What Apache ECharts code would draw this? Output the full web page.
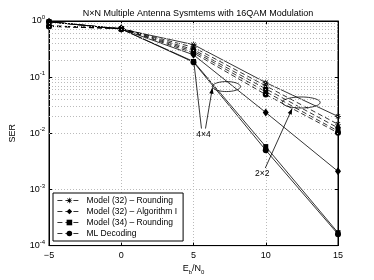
<!DOCTYPE html>
<html>
<head>
<meta charset="utf-8">
<script src="https://cdn.jsdelivr.net/npm/echarts@6/dist/echarts.min.js"></script>
<style>
  html, body { margin: 0; padding: 0; background: #fff; }
  #chart { width: 374px; height: 280px; }
</style>
</head>
<body>
<div id="chart"></div>
<script>
// Eb/N0 points
const snr = [-5, 0, 5, 10, 15];

const modelNames = [
  'Model (32) \u2013 Rounding',
  'Model (32) \u2013 Algorithm I',
  'Model (34) \u2013 Rounding',
  'ML Decoding'
];

// 2x2 curves (dashed)
const ser2x2_m32round = [0.82, 0.74, 0.34, 0.070, 0.0145];
const ser2x2_m32alg = [0.82, 0.74, 0.31, 0.062, 0.0125];
const ser2x2_m34round = [0.81, 0.73, 0.29, 0.055, 0.0110];
const ser2x2_ml = [0.80, 0.73, 0.27, 0.049, 0.0102];

// 4x4 curves (solid)
const ser4x4_m32round = [0.97, 0.72, 0.38, 0.080, 0.020];
const ser4x4_m32alg = [0.97, 0.72, 0.25, 0.0235, 0.0021];
const ser4x4_m34round = [0.97, 0.72, 0.19, 0.0058, 0.00017];
const ser4x4_ml = [0.97, 0.72, 0.185, 0.0050, 0.00016];

const xTicks = [-5, 0, 5, 10, 15];

const asterisk = 'path://M-1,-0.12L1,-0.12L1,0.12L-1,0.12Z' +
  'M-0.12,-1L0.12,-1L0.12,1L-0.12,1Z' +
  'M0.622,0.792L-0.792,-0.622L-0.622,-0.792L0.792,0.622Z' +
  'M0.792,-0.622L-0.622,0.792L-0.792,0.622L0.622,-0.792Z';
const symbols = [asterisk, 'diamond', 'rect', 'circle'];
const symSizes = [6, [6, 8], 5, 6];

const chart = echarts.init(document.getElementById('chart'));
const font = 'Liberation Sans, Arial, sans-serif';

function makeSeries(vals, i, dashed) {
  return {
    name: modelNames[i],
    type: 'line',
    data: snr.map((x, k) => [x, vals[k]]),
    symbol: symbols[i],
    symbolSize: symSizes[i],
    showSymbol: true,
    color: '#000',
    itemStyle: { color: '#000' },
    lineStyle: { color: '#000', width: 0.8, type: dashed ? [5, 3] : 'solid' },
    animation: false,
    z: 3
  };
}

const series = [
  makeSeries(ser2x2_m32round, 0, true),
  makeSeries(ser2x2_m32alg, 1, true),
  makeSeries(ser2x2_m34round, 2, true),
  makeSeries(ser2x2_ml, 3, true),
  makeSeries(ser4x4_m32round, 0, false),
  makeSeries(ser4x4_m32alg, 1, false),
  makeSeries(ser4x4_m34round, 2, false),
  makeSeries(ser4x4_ml, 3, false)
];

// minor log grid lines
const minorVals = [];
for (let e = -4; e < 0; e++) {
  for (let m = 2; m <= 9; m++) minorVals.push(m * Math.pow(10, e));
}
series.push({
  type: 'line',
  data: [],
  silent: true,
  markLine: {
    silent: true,
    symbol: 'none',
    label: { show: false },
    lineStyle: { color: '#bbb', type: [1, 2], width: 1 },
    data: minorVals.map(v => ({ yAxis: v }))
  }
});

const supRich = {
  b: { fontSize: 9, fontFamily: font, color: '#000' },
  s: { fontSize: 6, fontFamily: font, color: '#000', padding: [0, 0, 7, 0] }
};

chart.setOption({
  animation: false,
  title: {
    text: 'N\u00d7N Multiple Antenna Sysmtems with 16QAM Modulation',
    left: 193, textAlign: 'center', top: 4,
    textStyle: { fontSize: 9, fontWeight: 'normal', fontFamily: font, color: '#000' }
  },
  legend: {
    data: modelNames,
    orient: 'vertical',
    left: 53, top: 193,
    itemWidth: 24, itemHeight: 7, itemGap: 2,
    padding: [3, 6, 3, 4],
    backgroundColor: '#fff',
    borderColor: '#000', borderWidth: 1, borderRadius: 0,
    lineStyle: { width: 0.8, type: [5, 3] },
    textStyle: { fontSize: 8.5, fontFamily: font, color: '#000' },
    z: 10
  },
  grid: {
    left: 48, right: 36, top: 21, bottom: 33,
    show: true, borderColor: '#000', borderWidth: 1
  },
  xAxis: [{
    type: 'value', min: -5, max: 15, interval: 5,
    name: 'E{s|b}/N{s|0}', nameLocation: 'middle', nameGap: 14,
    nameTextStyle: {
      fontSize: 9, fontFamily: font, color: '#000',
      rich: {
        s: { fontSize: 6, fontFamily: font, color: '#000', padding: [6, 0, 0, 0] }
      }
    },
    axisLine: { onZero: false, lineStyle: { color: '#000' } },
    axisTick: { inside: true, length: 3, lineStyle: { color: '#000' } },
    axisLabel: {
      fontSize: 9, fontFamily: font, color: '#000', margin: 5,
      formatter: v => xTicks.includes(v) ? String(v).replace('-', '\u2212') : ''
    },
    splitLine: { lineStyle: { color: '#bbb', type: [1, 2] } }
  }, {
    type: 'value', min: -5, max: 15, interval: 5, position: 'top',
    axisLine: { onZero: false, lineStyle: { color: '#000' } },
    axisTick: { inside: true, length: 3, lineStyle: { color: '#000' } },
    axisLabel: { show: false }, splitLine: { show: false }
  }],
  yAxis: [{
    type: 'log', logBase: 10, min: 1e-4, max: 1,
    name: 'SER', nameLocation: 'middle', nameGap: 32,
    nameTextStyle: { fontSize: 9, fontFamily: font, color: '#000' },
    axisLine: { onZero: false, lineStyle: { color: '#000' } },
    axisTick: { inside: true, length: 3, lineStyle: { color: '#000' } },
    axisLabel: {
      margin: 4,
      formatter: v => '{b|10}{s|' + Math.round(Math.log10(v)) + '}',
      rich: supRich
    },
    splitLine: { lineStyle: { color: '#bbb', type: [1, 2] } }
  }, {
    type: 'log', logBase: 10, min: 1e-4, max: 1, position: 'right',
    axisLine: { onZero: false, lineStyle: { color: '#000' } },
    axisTick: { inside: true, length: 3, lineStyle: { color: '#000' } },
    axisLabel: { show: false }, splitLine: { show: false }
  }],
  series: series
});

// annotations: labels, ellipses and arrows placed in data coordinates
const px = (x, y) => chart.convertToPixel({ xAxisIndex: 0, yAxisIndex: 0 }, [x, y]);

function ellipse(c, rx, ry) {
  const pts = [];
  for (let k = 0; k < 48; k++) {
    const t = k / 48 * Math.PI * 2;
    pts.push([c[0] + rx * Math.cos(t), c[1] + ry * Math.sin(t)]);
  }
  return {
    type: 'polygon', shape: { points: pts }, z: 20,
    style: { fill: null, stroke: '#000', lineWidth: 0.8 }
  };
}

function arrow(from, to) {
  const dx = to[0] - from[0], dy = to[1] - from[1];
  const len = Math.sqrt(dx * dx + dy * dy);
  const ux = dx / len, uy = dy / len;
  const h = 6, w = 2.2;
  const bx = to[0] - ux * h, by = to[1] - uy * h;
  return [{
    type: 'line', z: 20,
    shape: { x1: from[0], y1: from[1], x2: to[0], y2: to[1] },
    style: { stroke: '#000', lineWidth: 0.8 }
  }, {
    type: 'polygon', z: 20,
    shape: { points: [to, [bx - uy * w, by + ux * w], [bx + uy * w, by - ux * w]] },
    style: { fill: '#000' }
  }];
}

const lab4 = px(5.69, 0.0095);
const lab2 = px(9.76, 0.00188);
const textStyle = { fontSize: 8.5, fontFamily: font, fill: '#000' };

const graphics = [
  { type: 'text', x: lab4[0], y: lab4[1], z: 20,
    style: Object.assign({ text: '4\u00d74', align: 'center', verticalAlign: 'middle' }, textStyle) },
  { type: 'text', x: lab2[0], y: lab2[1], z: 20,
    style: Object.assign({ text: '2\u00d72', align: 'center', verticalAlign: 'middle' }, textStyle) },
  ellipse(px(7.28, 0.068), 14, 5),
  ellipse(px(12.45, 0.0354), 19, 5.5)
]
  .concat(arrow([lab4[0] - 2, lab4[1] - 6], px(5.0, 0.21)))
  .concat(arrow([lab4[0] + 2, lab4[1] - 6], px(6.31, 0.065)))
  .concat(arrow([lab2[0] + 3, lab2[1] - 6], px(11.83, 0.0277)));

chart.setOption({ graphic: graphics });
</script>
</body>
</html>
